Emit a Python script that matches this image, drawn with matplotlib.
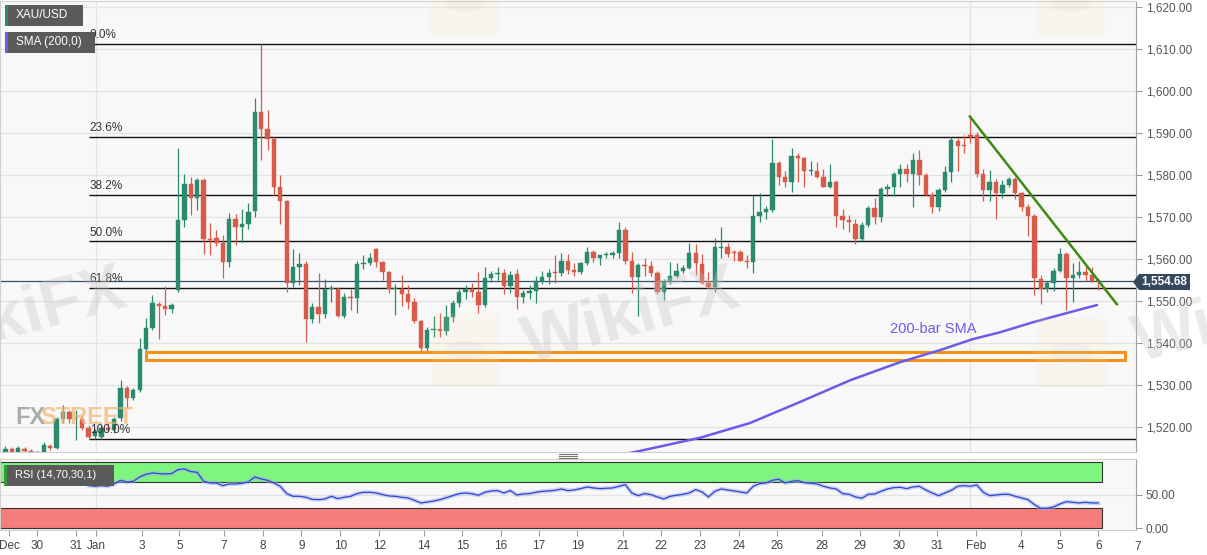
import matplotlib
matplotlib.use("Agg")
import matplotlib.pyplot as plt
from matplotlib.patches import Rectangle, Polygon, FancyBboxPatch, Circle
from matplotlib.lines import Line2D
import matplotlib.transforms as mtransforms

plt.rcParams['font.family'] = ['Liberation Sans', 'DejaVu Sans']

# ── Data (4H candles) ────────────────────────────────────────────────────────
opens = [1513.8, 1514.8, 1514.0, 1514.8, 1514.2, 1513.0, 1514.1, 1515.5, 1515.0, 1521.9,
         1523.6, 1522.0, 1521.9, 1519.8, 1517.8, 1517.6, 1519.8, 1519.3, 1522.1, 1529.3,
         1526.9, 1528.8, 1538.5, 1543.5, 1549.2, 1548.8, 1548.0, 1552.5, 1569.2, 1577.9,
         1574.4, 1578.7, 1564.8, 1564.9, 1563.7, 1559.2, 1569.6, 1567.5, 1568.4, 1571.3,
         1595.0, 1590.8, 1588.6, 1577.2, 1573.7, 1554.2, 1558.0, 1558.7, 1545.7, 1548.5,
         1546.8, 1552.8, 1552.8, 1546.4, 1550.9, 1550.6, 1558.7, 1558.9, 1562.3, 1559.2,
         1556.8, 1552.8, 1552.8, 1551.6, 1549.7, 1545.2, 1538.8, 1543.0, 1543.3, 1542.8,
         1546.1, 1549.5, 1552.1, 1552.8, 1552.1, 1549.0, 1555.4, 1556.3, 1556.6, 1553.5,
         1556.3, 1550.9, 1551.8, 1552.3, 1554.7, 1555.6, 1556.8, 1556.6, 1559.6, 1557.3,
         1556.8, 1558.9, 1561.6, 1560.1, 1560.8, 1560.8, 1561.3, 1566.8, 1559.4, 1555.6,
         1558.5, 1558.2, 1556.6, 1552.1, 1554.4, 1555.9, 1557.1, 1557.8, 1561.3, 1558.7,
         1554.2, 1553.2, 1562.6, 1562.8, 1561.6, 1561.6, 1559.6, 1559.2, 1570.1, 1571.1,
         1571.6, 1582.8, 1579.4, 1578.2, 1584.4, 1583.9, 1581.0, 1581.0, 1579.6, 1577.2,
         1578.2, 1570.1, 1569.2, 1568.4, 1564.7, 1568.0, 1572.0, 1569.9, 1576.6, 1577.0,
         1580.1, 1581.5, 1580.1, 1583.6, 1579.9, 1575.1, 1572.3, 1576.5, 1580.6, 1588.1,
         1587.0, 1589.5, 1589.4, 1580.3, 1576.5, 1578.2, 1575.6, 1577.7, 1578.9, 1575.6,
         1572.3, 1570.1, 1555.1, 1552.8, 1554.2, 1557.1, 1561.1, 1555.4, 1556.1, 1556.8,
         1556.1, 1554.9]
highs = [1515.5, 1515.2, 1515.5, 1515.3, 1514.6, 1514.3, 1516.5, 1516.0, 1522.3, 1525.2,
         1524.0, 1524.0, 1522.5, 1520.5, 1519.5, 1520.5, 1521.0, 1522.4, 1531.1, 1529.8,
         1529.3, 1541.1, 1545.9, 1551.4, 1549.7, 1553.5, 1549.5, 1586.5, 1580.3, 1579.5,
         1579.2, 1579.2, 1568.5, 1566.8, 1565.6, 1570.8, 1570.6, 1571.8, 1573.2, 1598.4,
         1611.2, 1595.5, 1589.0, 1579.9, 1574.0, 1562.3, 1561.3, 1559.6, 1549.5, 1556.6,
         1555.1, 1553.7, 1553.2, 1551.8, 1552.8, 1559.4, 1560.8, 1561.3, 1562.5, 1559.5,
         1557.0, 1553.9, 1556.1, 1553.7, 1550.6, 1545.5, 1543.7, 1546.4, 1547.1, 1549.0,
         1550.2, 1553.0, 1553.7, 1554.2, 1556.8, 1558.0, 1557.0, 1558.0, 1557.5, 1557.0,
         1557.5, 1552.5, 1553.7, 1555.9, 1557.1, 1557.5, 1560.8, 1561.3, 1561.1, 1558.9,
         1559.2, 1562.8, 1562.2, 1561.0, 1561.6, 1561.8, 1568.7, 1567.7, 1561.6, 1559.0,
         1560.1, 1559.6, 1557.2, 1555.2, 1559.2, 1558.9, 1558.5, 1563.7, 1563.5, 1561.1,
         1556.8, 1564.9, 1567.7, 1563.7, 1562.2, 1562.0, 1560.8, 1575.3, 1575.6, 1572.7,
         1588.6, 1583.2, 1581.0, 1586.3, 1585.1, 1584.3, 1583.2, 1583.0, 1581.5, 1582.5,
         1578.8, 1571.8, 1570.5, 1569.4, 1568.8, 1572.5, 1574.6, 1577.2, 1577.9, 1580.6,
         1582.7, 1582.5, 1585.1, 1586.0, 1580.5, 1575.8, 1576.8, 1582.2, 1589.1, 1588.8,
         1589.6, 1593.9, 1590.1, 1581.5, 1581.2, 1579.0, 1578.8, 1579.4, 1579.5, 1576.0,
         1573.0, 1570.6, 1556.1, 1554.8, 1557.8, 1562.5, 1561.6, 1558.9, 1559.4, 1558.2,
         1558.0, 1555.5]
lows = [1513.0, 1513.0, 1513.5, 1513.8, 1512.8, 1512.5, 1513.8, 1514.5, 1514.6, 1521.0,
        1521.0, 1516.9, 1519.2, 1517.0, 1517.0, 1517.2, 1518.8, 1518.5, 1521.5, 1524.5,
        1526.3, 1528.3, 1537.5, 1543.0, 1540.9, 1546.6, 1547.1, 1552.0, 1567.5, 1570.4,
        1571.6, 1561.1, 1560.8, 1563.0, 1555.4, 1558.0, 1563.2, 1563.9, 1567.0, 1569.9,
        1583.6, 1586.0, 1575.3, 1568.2, 1552.1, 1553.2, 1553.7, 1540.2, 1544.7, 1544.7,
        1546.0, 1549.7, 1546.2, 1545.9, 1547.8, 1547.1, 1557.5, 1558.5, 1558.0, 1554.9,
        1551.8, 1546.6, 1548.7, 1548.0, 1544.7, 1536.4, 1536.4, 1541.5, 1541.4, 1541.8,
        1545.0, 1548.5, 1550.4, 1550.8, 1547.1, 1548.5, 1554.5, 1555.0, 1551.6, 1551.8,
        1548.0, 1549.5, 1550.5, 1549.5, 1554.0, 1554.0, 1554.2, 1556.0, 1556.5, 1556.0,
        1556.4, 1558.6, 1559.2, 1558.5, 1560.2, 1560.2, 1560.3, 1558.7, 1551.8, 1546.4,
        1555.9, 1555.8, 1551.6, 1550.3, 1554.0, 1555.5, 1556.6, 1557.6, 1556.1, 1554.0,
        1553.0, 1552.1, 1560.3, 1560.5, 1559.6, 1559.4, 1557.8, 1556.6, 1568.7, 1569.6,
        1571.2, 1577.5, 1577.0, 1575.8, 1578.2, 1577.0, 1579.9, 1579.2, 1577.0, 1576.8,
        1567.5, 1567.0, 1566.3, 1563.5, 1564.2, 1567.5, 1568.2, 1568.7, 1574.9, 1574.9,
        1577.0, 1578.4, 1572.3, 1577.5, 1574.9, 1570.8, 1571.5, 1576.0, 1578.2, 1581.0,
        1585.3, 1587.7, 1579.5, 1573.7, 1573.7, 1569.4, 1574.4, 1577.2, 1574.2, 1571.5,
        1565.4, 1551.4, 1549.2, 1552.0, 1552.3, 1556.8, 1547.8, 1549.7, 1555.5, 1554.7,
        1554.4, 1552.6]
closes = [1514.8, 1513.5, 1515.0, 1514.2, 1513.0, 1514.1, 1515.7, 1515.0, 1521.9, 1523.6,
          1521.9, 1522.1, 1519.8, 1517.6, 1519.0, 1519.8, 1519.3, 1521.9, 1529.3, 1526.9,
          1528.8, 1538.5, 1543.5, 1549.5, 1548.8, 1548.0, 1549.0, 1569.2, 1577.9, 1574.4,
          1578.7, 1564.7, 1564.6, 1563.7, 1559.2, 1569.6, 1567.5, 1568.4, 1571.1, 1595.0,
          1590.8, 1588.6, 1577.2, 1573.7, 1554.2, 1558.0, 1558.7, 1545.7, 1548.5, 1546.8,
          1552.8, 1553.0, 1546.4, 1550.9, 1550.6, 1558.7, 1558.9, 1560.3, 1559.2, 1556.8,
          1552.8, 1553.0, 1551.6, 1549.7, 1545.2, 1538.8, 1543.0, 1543.3, 1542.8, 1546.1,
          1549.5, 1552.1, 1552.8, 1552.1, 1549.0, 1555.4, 1556.3, 1556.6, 1553.5, 1556.1,
          1550.9, 1551.8, 1552.3, 1554.7, 1555.6, 1556.6, 1556.6, 1559.6, 1557.3, 1556.8,
          1558.9, 1561.6, 1560.1, 1560.8, 1561.1, 1561.3, 1566.8, 1559.4, 1555.6, 1558.5,
          1558.2, 1556.6, 1552.1, 1554.4, 1555.9, 1557.1, 1557.8, 1561.3, 1558.9, 1554.2,
          1553.2, 1562.8, 1562.8, 1561.1, 1561.3, 1559.6, 1559.2, 1570.1, 1571.1, 1571.8,
          1582.8, 1579.6, 1578.2, 1584.4, 1583.9, 1580.8, 1581.2, 1579.6, 1577.2, 1578.2,
          1570.1, 1569.2, 1568.7, 1564.7, 1568.0, 1572.0, 1569.9, 1576.6, 1577.0, 1580.1,
          1581.5, 1580.1, 1583.6, 1579.9, 1575.3, 1572.3, 1576.5, 1580.6, 1588.4, 1586.9,
          1586.8, 1589.0, 1580.3, 1576.5, 1578.2, 1575.6, 1577.7, 1578.9, 1575.6, 1572.3,
          1570.1, 1555.4, 1552.8, 1554.2, 1557.1, 1561.1, 1555.4, 1556.1, 1556.8, 1556.1,
          1554.7, 1554.68]

rsi = [74, 73, 72, 70.5, 69, 68, 69.5, 69, 73, 74, 72, 70.5, 68, 64, 63, 64, 63, 66.5, 72, 69.5,
       70.5, 77, 81, 83, 82, 81.5, 82, 88, 89, 85, 84, 70.5, 68, 68, 64, 66.5, 66.5, 67.5, 69.5, 77,
       74, 72, 68, 63, 52, 48, 48, 46.5, 43.5, 43, 44, 48, 44.5, 46.5, 48, 52, 54, 54, 53, 50.5,
       48.5, 48, 46.5, 45.5, 42, 38, 39.5, 41, 43, 46, 49, 52, 53, 52, 49.5, 54, 56, 56.5, 53, 56.5,
       50, 51.5, 52, 54, 55.5, 56, 57, 59, 56.5, 57.5, 59.5, 62, 60.5, 59.5, 60, 60.5, 63, 65.5, 53, 49,
       52, 50.5, 47, 44, 48, 49.5, 51, 53, 58, 54.5, 47, 55.5, 59, 57.5, 56, 54.5, 53, 63, 67, 68,
       72, 73.5, 68, 70.5, 71.5, 68.5, 67.5, 66.5, 63, 60.5, 59, 52, 51, 47, 45, 51, 51.5, 55.5, 59, 61,
       61.5, 59.5, 62, 63, 57.5, 53, 49, 53, 57, 63, 64, 63, 65, 54, 49, 50, 51, 51, 48, 45.5,
       43, 35.5, 30, 30, 32, 36.5, 40, 39, 38, 39, 38, 38]

last_price = 1554.68
fib_high, fib_low = 1611.2, 1517.2
fib_ratios = [0.0, 0.236, 0.382, 0.5, 0.618, 1.0]
fib_labels = ["0.0%", "23.6%", "38.2%", "50.0%", "61.8%", "100.0%"]

sma_bar = [96, 98.8, 108.7, 116.5, 124.3, 132.2, 140.0, 146.3, 151.4, 155.6, 160.8, 166.1, 170.8]
sma_val = [1513.3, 1514.1, 1517.4, 1520.9, 1525.9, 1531.1, 1535.4, 1538.3, 1540.9, 1542.5,
           1544.9, 1547.1, 1549.0]
trend_bar = [150.9, 173.9]
trend_val = [1593.9, 1549.2]
zone_bar = [22.0, 175.2]
zone_val = [1535.9, 1537.8]

date_ticks = [0.6, 4.9, 11.0, 14.2, 21.3, 27.2, 34.2, 40.3, 46.3, 52.4, 58.5, 65.5, 71.5, 77.5,
              83.5, 89.5, 96.6, 102.6, 108.7, 114.7, 120.8, 127.7, 133.7, 139.8, 145.8, 151.9,
              158.9, 165.0, 171.0, 177.1]
date_labels = ["Dec", "30", "31", "Jan", "3", "5", "7", "8", "9", "10", "12", "14", "15", "16",
               "17", "19", "21", "22", "23", "24", "26", "28", "29", "30", "31", "Feb",
               "4", "5", "6", "7"]

# ── Styling ──────────────────────────────────────────────────────────────────
W, H = 1207, 555
GREEN = "#2b8a6e"
RED = "#d85a48"
SMA_C = "#6b5ce7"
BG = "#f8f8f8"
GRID = "#e4e4e4"
WM = "#c9c2c2"
XMIN, XMAX = -0.86, 176.9


def fx(x):
    return x / W


def fy(y):
    return 1 - y / H


fig = plt.figure(figsize=(W / 100, H / 100), dpi=100, facecolor="white")
ax = fig.add_axes([0, fy(452), fx(1136), (452 - 1) / H])
axr = fig.add_axes([0, fy(530), fx(1136), (530 - 459) / H])

for a in (ax, axr):
    a.set_facecolor(BG)
    a.set_xlim(XMIN, XMAX)
    for s in a.spines.values():
        s.set_color("#d0d0d0")
        s.set_linewidth(0.8)
    a.spines["right"].set_color("#a0a0a0")
    for vx in (14.2, 151.0):
        a.axvline(vx, color=GRID, lw=1, zorder=0)

# ── Price panel ──────────────────────────────────────────────────────────────
ax.set_ylim(1514.0, 1621.4)
yt = list(range(1520, 1621, 10))
ax.set_yticks(yt)
ax.set_yticklabels([f"{v:,.2f}" for v in yt])
ax.yaxis.tick_right()
ax.tick_params(axis="y", length=4, color="#999", labelcolor="#555", labelsize=8.5, pad=3)
ax.tick_params(axis="x", bottom=False, labelbottom=False)
for v in yt:
    ax.axhline(v, color=GRID, lw=1, zorder=0)


# faint logo watermarks (pixel boxes)
def logo(x0, y0, x1, y1):
    fig.add_artist(FancyBboxPatch((fx(x0), fy(y1)), fx(x1) - fx(x0), fy(y0) - fy(y1),
                                  boxstyle="round,pad=0,rounding_size=0.008",
                                  transform=fig.transFigure, facecolor="#f3e2a6",
                                  edgecolor="none", alpha=0.13, zorder=1))
    cx, cy = (x0 + x1) / 2, (y0 + y1) / 2
    fig.add_artist(Circle((fx(cx), fy(cy)), fx((x1 - x0) * 0.3), transform=fig.transFigure,
                          facecolor="#bdbdbd", edgecolor="none", alpha=0.08, zorder=1))


logo(430, -30, 500, 35)
logo(432, 313, 500, 387)
logo(1035, -30, 1105, 35)
logo(1035, 318, 1108, 388)

xs = list(range(len(opens)))
for i in xs:
    o, h, l, c = opens[i], highs[i], lows[i], closes[i]
    col = GREEN if c >= o else RED
    ax.vlines(i, l, h, color=col, lw=0.9, zorder=3)
    body = max(abs(c - o), 0.2)
    ax.bar(i, body, bottom=min(o, c), width=0.68, color=col, edgecolor=col, lw=0.3, zorder=4)

# Fibonacci levels
for r, lab in zip(fib_ratios, fib_labels):
    lvl = fib_high - r * (fib_high - fib_low)
    ax.hlines(lvl, 13.1, XMAX, color="#111", lw=1.0, zorder=2)
    ax.text(13.2, lvl + 0.6, lab, fontsize=8.5, color="#333", va="bottom", ha="left", zorder=5)

# current price line
ax.axhline(last_price, color="#34506e", lw=0.9, zorder=2)

# support zone
ax.add_patch(Rectangle((zone_bar[0], zone_val[0]), zone_bar[1] - zone_bar[0],
                       zone_val[1] - zone_val[0], facecolor="#fffaf2",
                       edgecolor="#f5921e", lw=2.2, zorder=5))

# 200 SMA and trendline
ax.plot(sma_bar, sma_val, color=SMA_C, lw=1.8, zorder=6, solid_capstyle="round")
ax.plot(trend_bar, trend_val, color="#3d8a12", lw=1.8, zorder=6)
ax.text(145.2, 1543.4, "200-bar SMA", color=SMA_C, fontsize=10.5, ha="center", va="center",
        zorder=6)

# text watermarks
ax.text(-16, 1546, "WikiFX", fontsize=48, fontweight="bold", color=WM, alpha=0.35,
        rotation=15, ha="left", va="center", zorder=7)
ax.text(80, 1546, "WikiFX", fontsize=48, fontweight="bold", color=WM, alpha=0.35,
        rotation=15, ha="left", va="center", zorder=7)
fig.text(fx(1128), fy(335), "Wi", fontsize=48, fontweight="bold", color=WM, alpha=0.35,
         rotation=15, ha="left", va="center", clip_on=True)
fig.text(fx(15), fy(417), "FX", fontsize=17, fontweight="bold", color="#8c8c8c", alpha=0.7,
         ha="left", va="center", zorder=7)
fig.text(fx(40), fy(417), "STREET", fontsize=17, fontweight="bold", color="#f2b36e", alpha=0.7,
         ha="left", va="center", zorder=7)

# ── RSI panel ────────────────────────────────────────────────────────────────
axr.set_ylim(-2.5, 103.9)
axr.add_patch(Rectangle((XMIN, 70), 171.6 - XMIN, 30, facecolor="#7ef57e", edgecolor="#333",
                        lw=0.8, zorder=1))
axr.add_patch(Rectangle((XMIN, 0), 171.6 - XMIN, 30, facecolor="#f77c7c", edgecolor="#333",
                        lw=0.8, zorder=1))
axr.axhline(50, color=GRID, lw=1, zorder=0)
axr.plot(range(len(rsi)), rsi, color="#9fb0f0", lw=3, alpha=0.5, zorder=2)
axr.plot(range(len(rsi)), rsi, color="#2f45cc", lw=0.9, zorder=3)
axr.yaxis.tick_right()
axr.set_yticks([0, 50])
axr.set_yticklabels(["0.00", "50.00"])
axr.tick_params(axis="y", length=4, color="#999", labelcolor="#555", labelsize=8.5, pad=3)
in_t = [(t, l) for t, l in zip(date_ticks, date_labels) if t <= XMAX]
axr.set_xticks([t for t, _ in in_t])
axr.set_xticklabels([l for _, l in in_t])
axr.tick_params(axis="x", length=4, color="#999", labelcolor="#444", labelsize=8.5, pad=3)
for t, l in zip(date_ticks, date_labels):
    if t > XMAX:
        axr.text(t, -0.16, l, fontsize=8.5, color="#444", ha="center", va="top",
                 transform=mtransforms.blended_transform_factory(axr.transData, axr.transAxes),
                 clip_on=False)


# ── Overlays in figure pixels ────────────────────────────────────────────────
def label_box(x0, y0, x1, y1, strip, text, fs):
    fig.add_artist(Rectangle((fx(x0), fy(y1)), fx(x1) - fx(x0), fy(y0) - fy(y1),
                             transform=fig.transFigure, facecolor="#5a5a5a", edgecolor="none"))
    fig.add_artist(Rectangle((fx(x0), fy(y1)), fx(2.5), fy(y0) - fy(y1),
                             transform=fig.transFigure, facecolor=strip, edgecolor="none"))
    fig.text(fx(x0 + 11), fy((y0 + y1) / 2), text, color="white", fontsize=fs,
             ha="left", va="center")


label_box(5, 5, 83, 26, GREEN, "XAU/USD", 8.5)
label_box(5, 32, 95, 53, SMA_C, "SMA (200,0)", 8.5)
label_box(4, 465, 114, 486, "#3a9a3a", "RSI (14,70,30,1)", 8)

# price tag
tag = Polygon([(fx(1133), fy(282)), (fx(1139), fy(274)), (fx(1190), fy(274)),
               (fx(1190), fy(290)), (fx(1139), fy(290))], closed=True,
              transform=fig.transFigure, facecolor="#34495e", edgecolor="none")
fig.add_artist(tag)
fig.text(fx(1164), fy(282), f"{last_price:,.2f}", color="white", fontsize=8.5,
         fontweight="bold", ha="center", va="center")

# divider grip
for yy in (453.5, 455.5, 457.5):
    fig.add_artist(Line2D([fx(559), fx(577)], [fy(yy), fy(yy)], transform=fig.transFigure,
                          color="#777", lw=0.8))

fig.savefig("out.png", dpi=100, facecolor="white")
